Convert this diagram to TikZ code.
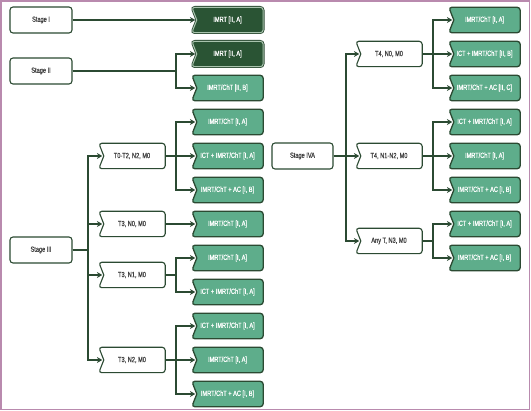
\documentclass[tikz,border=0pt]{standalone}
\usepackage{fontspec}
\setmainfont{Liberation Sans}[FakeStretch=0.75, FakeBold=0.6]
\usetikzlibrary{arrows.meta, backgrounds}
\tikzset{>={Stealth[width=2.1mm,length=1.9mm]}}
\definecolor{dgreen}{HTML}{2A5434}
\definecolor{lgreen}{HTML}{5EAD8B}
\definecolor{edge}{HTML}{2B4A32}
\definecolor{rim}{HTML}{A8C3AD}
\definecolor{frame}{HTML}{B98AAE}
\newcommand{\notchbox}[1]{([xshift=5pt]#1.west) [rounded corners=3pt] -- (#1.north west) -- (#1.north east) -- (#1.south east) -- (#1.south west) [sharp corners] -- cycle}

\begin{document}
\begin{tikzpicture}[
    x = 1pt, y = -1pt,
    every node/.style = {font=\fontsize{7.5}{8}\selectfont, inner sep=0pt},
    stage/.style = {draw=edge, line width=1.1pt, fill=white, rounded corners=3pt,
        minimum width=62pt, minimum height=26pt, text=black!75},
    sub/.style = {minimum width=66pt, minimum height=25pt, text=black!75},
    trt/.style = {minimum width=71pt, minimum height=25pt, text=white},
    dkbox/.style = {fill=dgreen, draw=rim, line width=1pt,
        preaction={draw=edge, line width=2.6pt}},
    ltbox/.style = {fill=lgreen, draw=edge, line width=1.3pt},
    subbox/.style = {fill=white, draw=edge, line width=1.1pt},
    arr/.style = {->, draw=edge, line width=1.2pt, shorten >=1.5pt}
  ]
  \useasboundingbox (0,0) rectangle (531,411);
  \draw[frame, line width=1.6pt] (0.8,0.8) rectangle (529.5,409.5);

  % stages
  \node[stage] (sI)   at (41,20)    {Stage I};
  \node[stage] (sII)  at (41,71)    {Stage II};
  \node[stage] (sIII) at (41,250)   {Stage III};
  \node[stage, minimum width=61pt] (sIVA) at (302.5,156) {Stage IVA};

  % substages
  \node[sub] (a1) at (132,156) {T0-T2, N2, M0};
  \node[sub] (a2) at (132,224) {T3, N0, M0};
  \node[sub] (a3) at (132,275) {T3, N1, M0};
  \node[sub] (a4) at (132,360) {T3, N2, M0};
  \node[sub] (b1) at (389,54)  {T4, N0, M0};
  \node[sub] (b2) at (389,156) {T4, N1-N2, M0};
  \node[sub] (b3) at (389,241) {Any T, N3, M0};

  % treatments, left
  \node[trt] (l0)  at (227.5,20)  {IMRT [II, A]};
  \node[trt] (l1)  at (227.5,54)  {IMRT [II, A]};
  \node[trt] (l2)  at (227.5,88)  {IMRT/ChT [II, B]};
  \node[trt] (l3)  at (227.5,122) {IMRT/ChT [I, A]};
  \node[trt] (l4)  at (227.5,156) {ICT + IMRT/ChT [I, A]};
  \node[trt] (l5)  at (227.5,190) {IMRT/ChT + AC [I, B]};
  \node[trt] (l6)  at (227.5,224) {IMRT/ChT [I, A]};
  \node[trt] (l7)  at (227.5,258) {IMRT/ChT [I, A]};
  \node[trt] (l8)  at (227.5,292) {ICT + IMRT/ChT [I, A]};
  \node[trt] (l9)  at (227.5,326) {ICT + IMRT/ChT [I, A]};
  \node[trt] (l10) at (227.5,360) {IMRT/ChT [I, A]};
  \node[trt] (l11) at (227.5,394) {IMRT/ChT + AC [I, B]};

  % treatments, right
  \node[trt] (r0) at (484.5,20)  {IMRT/ChT [I, A]};
  \node[trt] (r1) at (484.5,54)  {ICT + IMRT/ChT [II, B]};
  \node[trt] (r2) at (484.5,88)  {IMRT/ChT + AC [II, C]};
  \node[trt] (r3) at (484.5,122) {ICT + IMRT/ChT [I, A]};
  \node[trt] (r4) at (484.5,156) {IMRT/ChT [I, A]};
  \node[trt] (r5) at (484.5,190) {IMRT/ChT + AC [I, B]};
  \node[trt] (r6) at (484.5,224) {ICT + IMRT/ChT [I, A]};
  \node[trt] (r7) at (484.5,258) {IMRT/ChT + AC [I, B]};

  \begin{scope}[on background layer]
    \foreach \n in {l0,l1}
      \draw[dkbox] \notchbox{\n};
    \foreach \n in {l2,l3,l4,l5,l6,l7,l8,l9,l10,l11,r0,r1,r2,r3,r4,r5,r6,r7}
      \draw[ltbox] \notchbox{\n};
    \foreach \n in {a1,a2,a3,a4,b1,b2,b3}
      \draw[subbox] \notchbox{\n};
  \end{scope}

  % junctions
  \coordinate (jL1) at (88,0);
  \coordinate (jL2) at (176,0);
  \coordinate (jR1) at (346,0);
  \coordinate (jR2) at (433,0);

  % connectors
  \draw[arr] (sI.east) -- ([xshift=5pt]l0.west);
  \foreach \t in {l1,l2}
    \draw[arr] (sII.east) -- (sII.east -| jL2) |- ([xshift=5pt]\t.west);
  \foreach \t in {a1,a2,a3,a4}
    \draw[arr] (sIII.east) -- (sIII.east -| jL1) |- ([xshift=5pt]\t.west);
  \foreach \t in {l3,l4,l5}
    \draw[arr] (a1.east) -- (a1.east -| jL2) |- ([xshift=5pt]\t.west);
  \draw[arr] (a2.east) -- ([xshift=5pt]l6.west);
  \foreach \t in {l7,l8}
    \draw[arr] (a3.east) -- (a3.east -| jL2) |- ([xshift=5pt]\t.west);
  \foreach \t in {l9,l10,l11}
    \draw[arr] (a4.east) -- (a4.east -| jL2) |- ([xshift=5pt]\t.west);

  \foreach \t in {b1,b2,b3}
    \draw[arr] (sIVA.east) -- (sIVA.east -| jR1) |- ([xshift=5pt]\t.west);
  \foreach \t in {r0,r1,r2}
    \draw[arr] (b1.east) -- (b1.east -| jR2) |- ([xshift=5pt]\t.west);
  \foreach \t in {r3,r4,r5}
    \draw[arr] (b2.east) -- (b2.east -| jR2) |- ([xshift=5pt]\t.west);
  \foreach \t in {r6,r7}
    \draw[arr] (b3.east) -- (b3.east -| jR2) |- ([xshift=5pt]\t.west);
\end{tikzpicture}
\end{document}
